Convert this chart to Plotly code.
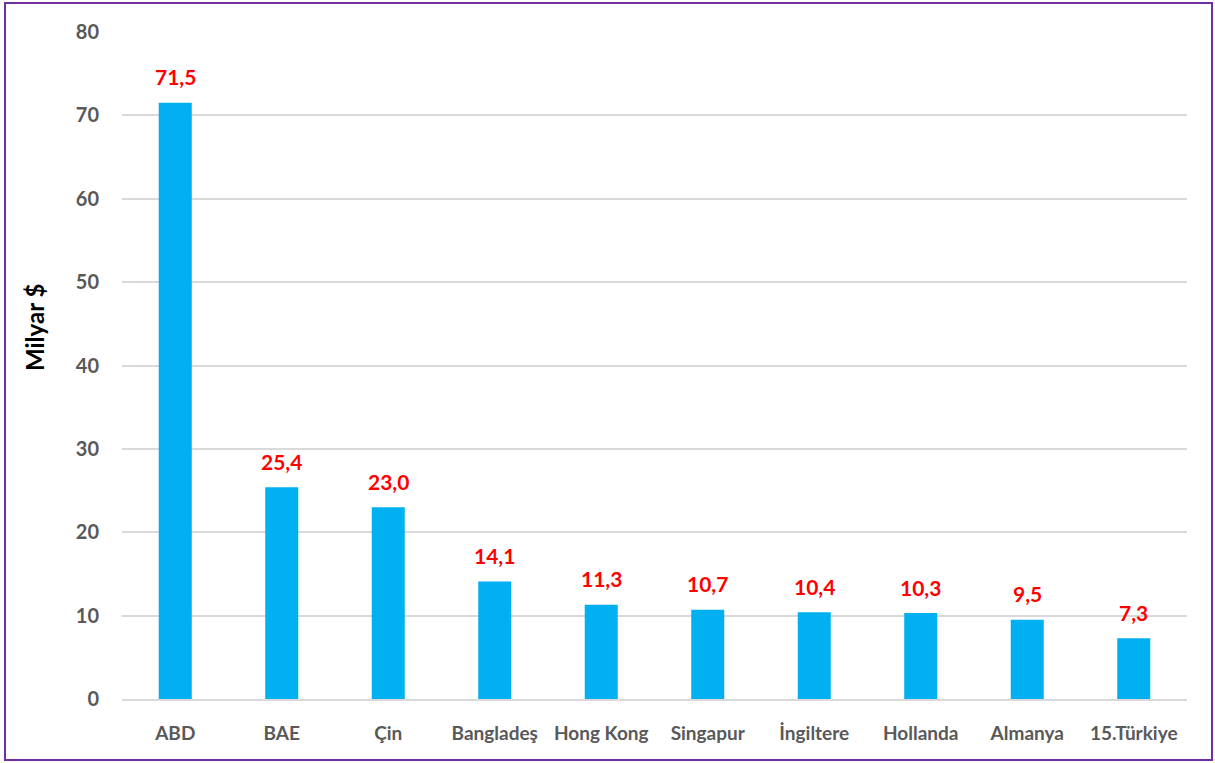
import plotly.graph_objects as go

countries = ["ABD", "BAE", "Çin", "Bangladeş", "Hong Kong", "Singapur",
             "İngiltere", "Hollanda", "Almanya", "15.Türkiye"]
values = [71.5, 25.4, 23.0, 14.1, 11.3, 10.7, 10.4, 10.3, 9.5, 7.3]
labels = [f"{v:.1f}".replace(".", ",") for v in values]
y_ticks = [0, 10, 20, 30, 40, 50, 60, 70, 80]

W, H = 1215, 763
L, R, T, B = 122, 28, 32, 64
pw, ph = W - L - R, H - T - B

fig = go.Figure()
fig.add_trace(go.Bar(x=countries, y=values, marker=dict(color="#00B0F0", line=dict(width=0)),
                     hoverinfo="x+y"))

for c, v, t in zip(countries, values, labels):
    fig.add_annotation(x=c, y=v, text=t, showarrow=False, yshift=26,
                       font=dict(family="Lato", size=21, color="#FF0000", weight="bold"))

def px_x(p):
    return (p - L) / pw

def px_y(p):
    return (H - B - p) / ph

fig.add_shape(type="rect", xref="paper", yref="paper",
              x0=px_x(5), x1=px_x(1212), y0=px_y(760), y1=px_y(3),
              line=dict(color="#7030A0", width=2), fillcolor="rgba(0,0,0,0)", layer="above")

fig.add_annotation(xref="paper", yref="paper", x=px_x(35), y=px_y(328), text="Milyar $",
                   xanchor="center", yanchor="middle",
                   textangle=-90, showarrow=False,
                   font=dict(family="Lato", size=24, color="#000000", weight="bold"))

fig.update_layout(
    width=W, height=H,
    margin=dict(l=L, r=R, t=T, b=B),
    paper_bgcolor="white", plot_bgcolor="white",
    bargap=0.69, showlegend=False,
    font=dict(family="Lato", size=18, color="#595959"),
    xaxis=dict(showgrid=False, showline=True, linecolor="#D9D9D9", linewidth=1.5,
               ticks="", tickfont=dict(family="Lato", size=19, color="#595959", weight="bold"),
               ticklabelstandoff=16),
    yaxis=dict(range=[0, 80], tickvals=y_ticks, showgrid=True, gridcolor="#D9D9D9", gridwidth=1.5,
               zeroline=False, showline=False, ticks="",
               tickfont=dict(family="Lato", size=20, color="#595959", weight="bold"),
               ticklabelstandoff=22),
)

fig.write_html("out.html", config={"displayModeBar": False},
               post_script="document.body.style.margin='0';document.body.style.padding='0';")
